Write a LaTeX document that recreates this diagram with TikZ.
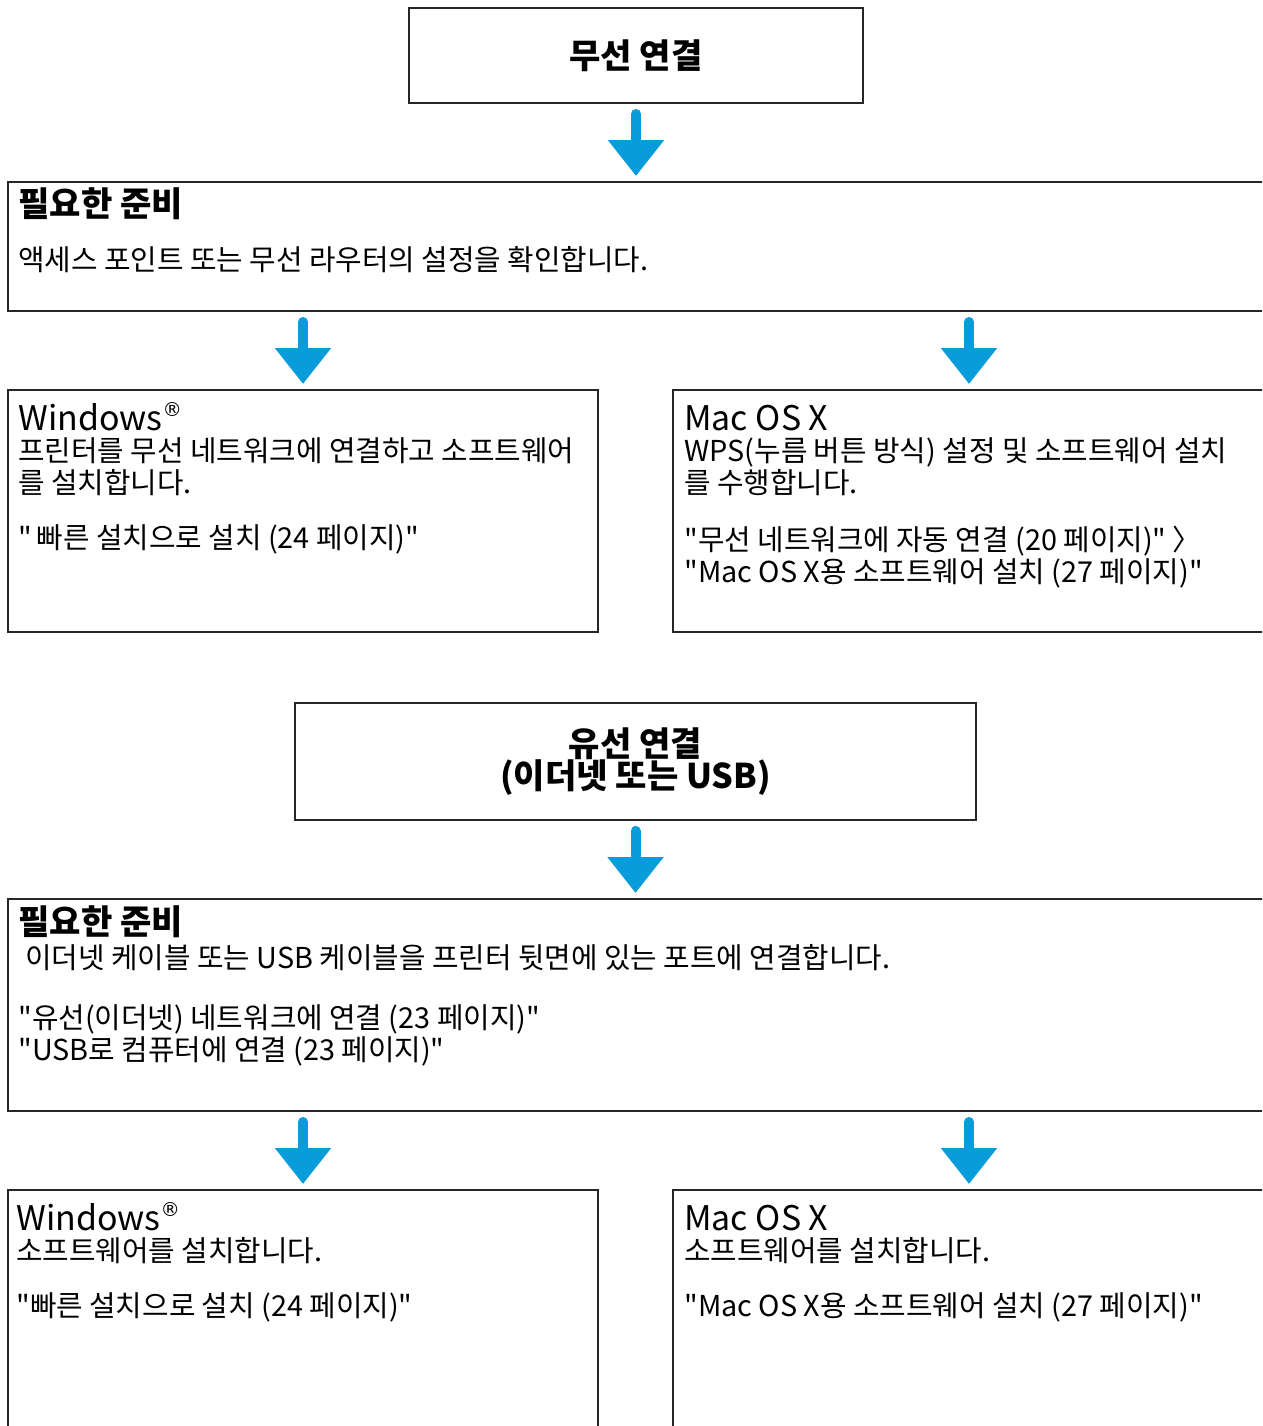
\documentclass[tikz,border=0pt]{standalone}
\usepackage{fontspec}
\setmainfont{Noto Sans CJK KR}[Ligatures=TeXOff]
\newfontfamily\markfont{DejaVu Sans}
\usetikzlibrary{arrows.meta}
\usetikzlibrary{fit}
\definecolor{FlowBlue}{HTML}{089CDA}
\definecolor{FrameDark}{HTML}{262626}
\newcommand{\regmark}{\raisebox{7.5pt}{\markfont\fontsize{11}{11}\selectfont ®}}

\begin{document}
\begin{tikzpicture}[x=0.02cm, y=-0.02cm,
  panel/.style={draw=FrameDark, line width=0.04cm, inner sep=0pt},
  flow/.style={FlowBlue, line width=0.2cm, line cap=round,
    -{Triangle[width=1.08cm,length=0.72cm]}, shorten <=0.2cm, shorten >=0.1cm},
  title/.style={inner sep=0pt, font=\fontsize{19.4}{18.6}\selectfont\bfseries, align=center},
  head/.style={anchor=base west, inner sep=0pt, font=\fontsize{19.3}{24}\selectfont},
  body/.style={anchor=base west, inner sep=0pt, align=left,
    font=\fontsize{16.4}{18.2}\selectfont}]

  \useasboundingbox (0,0) rectangle (1262,1426);
  \clip (0,0) rectangle (1262,1426);

  % wireless
  \node[panel, fit={(409,8) (863,103)}] (wless) {};
  \node[title] (wlessT) at (wless.center) {무선 연결};

  \node[panel, fit={(8,182) (1265,311)}] (prepA) {};
  \node[title, anchor=base west] (prepAH) at (18,216) {필요한 준비};
  \node[body] (prepAT) at (18,270) {액세스 포인트 또는 무선 라우터의 설정을 확인합니다.};

  \node[panel, fit={(8,390) (598,632)}] (winA) {};
  \node[head] (winAH) at (18,430) {Windows\regmark};
  \node[body] (winAT) at (18,493) {프린터를 무선 네트워크에 연결하고 소프트웨어\\를 설치합니다.};
  \node[body] (winAL) at (18,548) {"\,빠른 설치으로 설치 (24 페이지)"};

  \node[panel, fit={(673,390) (1265,632)}] (macA) {};
  \node[head] (macAH) at (684,430) {Mac OS X};
  \node[body] (macAT) at (684,493) {WPS(누름 버튼 방식) 설정 및 소프트웨어 설치\\를 수행합니다.};
  \node[body] (macAL) at (684,582) {"무선 네트워크에 자동 연결 (20 페이지)" 〉\\"Mac OS X용 소프트웨어 설치 (27 페이지)"};

  % wired
  \node[panel, fit={(295,703) (976,820)}] (wired) {};
  \node[title] (wiredT) at (wired.center) {유선 연결\\(이더넷 또는 USB)};

  \node[panel, fit={(8,899) (1265,1111)}] (prepB) {};
  \node[title, anchor=base west] (prepBH) at (18,934) {필요한 준비};
  \node[body] (prepBT) at (25,968) {이더넷 케이블 또는 USB 케이블을 프린터 뒷면에 있는 포트에 연결합니다.};
  \node[body] (prepBL) at (18,1060) {"유선(이더넷) 네트워크에 연결 (23 페이지)"\\"USB로 컴퓨터에 연결 (23 페이지)"};

  \node[panel, fit={(8,1190) (598,1440)}] (winB) {};
  \node[head] (winBH) at (16,1230) {Windows\regmark};
  \node[body] (winBT) at (16,1261) {소프트웨어를 설치합니다.};
  \node[body] (winBL) at (16,1316) {"빠른 설치으로 설치 (24 페이지)"};

  \node[panel, fit={(673,1190) (1265,1440)}] (macB) {};
  \node[head] (macBH) at (684,1230) {Mac OS X};
  \node[body] (macBT) at (684,1261) {소프트웨어를 설치합니다.};
  \node[body] (macBL) at (684,1316) {"Mac OS X용 소프트웨어 설치 (27 페이지)"};

  % arrows
  \draw[flow] (wless.south) -- (wless.south |- prepA.north);
  \draw[flow] (wired.south) -- (wired.south |- prepB.north);
  \foreach \a/\b in {prepA/winA, prepA/macA, prepB/winB, prepB/macB}{%
    \draw[flow] (\a.south -| \b.north) -- (\b.north);
  }
\end{tikzpicture}
\end{document}
